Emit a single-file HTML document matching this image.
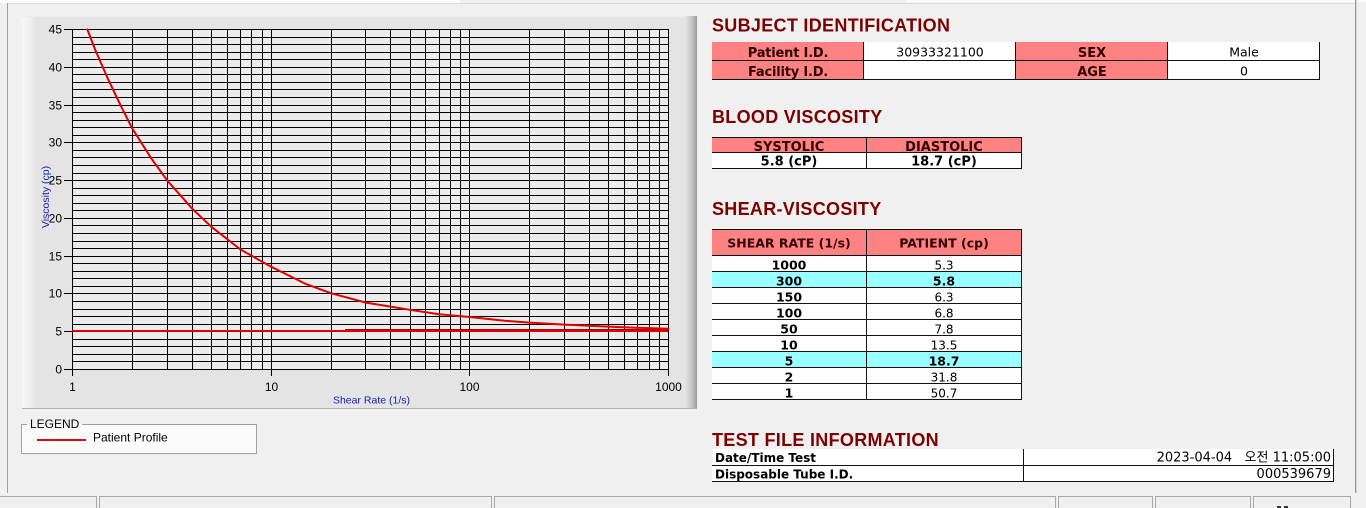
<!DOCTYPE html>
<html>
<head>
<meta charset="utf-8">
<style>
  html, body { margin: 0; padding: 0; background: #f0f0f0; overflow: hidden; }
  svg { display: block; }
  .ax { font-family: "Liberation Sans", Arial, sans-serif; }
  .hd { font-family: "Liberation Sans", Arial, sans-serif; font-weight: bold; font-size: 18px; fill: #7d0000; letter-spacing: 0.3px; }
  .tb { font-family: "DejaVu Sans", "Liberation Sans", "Noto Sans CJK KR", sans-serif; }
</style>
</head>
<body>
<svg width="1366" height="508" viewBox="0 0 1366 508" xmlns="http://www.w3.org/2000/svg">
  <defs>
    <linearGradient id="lg" x1="0" x2="1" y1="0" y2="0">
      <stop offset="0" stop-color="#f7f7f7"/>
      <stop offset="0.5" stop-color="#f0f0f0"/>
      <stop offset="1" stop-color="#e4e4e4"/>
    </linearGradient>
    <linearGradient id="rg" x1="0" x2="1" y1="0" y2="0">
      <stop offset="0" stop-color="#e4e4e4"/>
      <stop offset="0.6" stop-color="#c4c4c4"/>
      <stop offset="1" stop-color="#9a9a9a"/>
    </linearGradient>
  </defs>

  <!-- page background -->
  <rect x="0" y="0" width="1366" height="508" fill="#f0f0f0"/>
  <rect x="0" y="0" width="460" height="3" fill="#fbfbfb"/>
  <rect x="906" y="0" width="460" height="2" fill="#fbfbfb"/>

  <!-- outer frame -->
  <path d="M7.5 3V493" stroke="#a0a0a0" fill="none"/>
  <path d="M8 3.5H1355" stroke="#dcdcdc" fill="none"/>
  <path d="M1355.5 0V493" stroke="#9a9a9a" fill="none"/>
  <path d="M1356.5 0V493" stroke="#d4d4d4" fill="none"/>

  <!-- chart panel -->
  <rect x="22" y="16" width="675" height="392" fill="#e4e4e4"/>
  <rect x="22" y="16" width="14" height="392" fill="url(#lg)"/>
  <path d="M22 16.5H686" stroke="#ececec" fill="none"/>
  <rect x="685" y="16" width="12" height="393" fill="url(#rg)"/>
  <path d="M22 408.5H697" stroke="#b4b4b4" fill="none"/>

  <!-- plot background -->
  <rect x="72" y="29" width="597" height="341" fill="#ebebeb"/>

  <!-- horizontal grid -->
  <path fill="none" stroke="#000" stroke-width="1" d="
M72 29.5H669M72 37.5H669M72 44.5H669M72 52.5H669M72 59.5H669M72 67.5H669M72 74.5H669M72 82.5H669M72 89.5H669M72 97.5H669
M72 105.5H669M72 112.5H669M72 120.5H669M72 127.5H669M72 135.5H669M72 142.5H669M72 150.5H669M72 157.5H669M72 165.5H669M72 173.5H669
M72 180.5H669M72 188.5H669M72 195.5H669M72 203.5H669M72 210.5H669M72 218.5H669M72 225.5H669M72 233.5H669M72 241.5H669M72 248.5H669
M72 256.5H669M72 263.5H669M72 271.5H669M72 278.5H669M72 286.5H669M72 293.5H669M72 301.5H669M72 309.5H669M72 316.5H669M72 324.5H669
M72 331.5H669M72 339.5H669M72 346.5H669M72 354.5H669M72 361.5H669M72 369.5H669"/>

  <!-- vertical grid -->
  <path fill="none" stroke="#000" stroke-width="1" d="
M72.5 29V370M132.5 29V370M167.5 29V370M192.5 29V370M211.5 29V370M227.5 29V370M240.5 29V370M251.5 29V370M262.5 29V370M271.5 29V370
M331.5 29V370M365.5 29V370M390.5 29V370M410.5 29V370M425.5 29V370M439.5 29V370M450.5 29V370M460.5 29V370M469.5 29V370
M529.5 29V370M564.5 29V370M589.5 29V370M608.5 29V370M624.5 29V370M637.5 29V370M649.5 29V370M659.5 29V370M668.5 29V370"/>

  <!-- y ticks -->
  <path fill="none" stroke="#000" d="M64 29.5H72M64 67.5H72M64 105.5H72M64 142.5H72M64 180.5H72M64 218.5H72M64 256.5H72M64 293.5H72M64 331.5H72M64 369.5H72"/>
  <!-- x ticks -->
  <path fill="none" stroke="#000" d="M72.5 370V376M271.5 370V376M469.5 370V376M668.5 370V376"/>

  <!-- y labels -->
  <g class="ax" font-size="12" fill="#000" text-anchor="end">
    <text x="62" y="33.5">45</text>
    <text x="62" y="71.5">40</text>
    <text x="62" y="109.5">35</text>
    <text x="62" y="146.5">30</text>
    <text x="62" y="184.5">25</text>
    <text x="62" y="222.5">20</text>
    <text x="62" y="260.5">15</text>
    <text x="62" y="297.5">10</text>
    <text x="62" y="335.5">5</text>
    <text x="62" y="373.5">0</text>
  </g>
  <!-- x labels -->
  <g class="ax" font-size="12" fill="#000" text-anchor="middle">
    <text x="72.5" y="391">1</text>
    <text x="271.5" y="391">10</text>
    <text x="469.5" y="391">100</text>
    <text x="668.5" y="391">1000</text>
  </g>
  <!-- axis titles -->
  <text class="ax" x="371.5" y="403.5" font-size="10.5" fill="#1a1ab0" text-anchor="middle">Shear Rate (1/s)</text>
  <text class="ax" transform="translate(49,197) rotate(-90)" font-size="10.5" fill="#1a1ab0" text-anchor="middle">Viscosity (cp)</text>

  <!-- series -->
  <path d="M72 331H668" stroke="#dc0000" stroke-width="2" fill="none"/>
  <path d="M345 329.5H668" stroke="#b00000" stroke-width="1" fill="none"/>
  <polyline fill="none" stroke="#e00000" stroke-width="2" stroke-linejoin="round" stroke-linecap="round"
    points="87.4,29.5 95.1,49.5 107.5,77.9 120.8,105.8 132.3,128.5 151.5,158.7 167.3,180.6 192.1,208.6 211.3,226.7 240.3,249.4 271.1,266.7 306.1,284.1 330.9,293.2 365.9,302.6 409.9,309.8 438.9,314.3 469.7,317 504.7,320.8 529.5,322.6 564.5,324.6 608.5,326.6 637.5,327.8 668.3,328.8"/>

  <!-- legend -->
  <rect x="21" y="424" width="236" height="30" fill="#fbfbfb"/>
  <path d="M27 424.5H21.5V453.5H256.5V424.5H82" fill="none" stroke="#a0a0a0"/>
  <text class="ax" x="30" y="428" font-size="12" fill="#000">LEGEND</text>
  <path d="M37 440H86" stroke="#d01010" stroke-width="2"/>
  <text class="ax" x="93" y="441.5" font-size="12" fill="#000">Patient Profile</text>

  <!-- ================= RIGHT SIDE ================= -->
  <text class="hd" x="712" y="31.5">SUBJECT IDENTIFICATION</text>

  <!-- table 1 -->
  <rect x="712" y="42" width="151" height="38" fill="#ff8282"/>
  <rect x="864" y="42" width="151" height="38" fill="#ffffff"/>
  <rect x="1016" y="42" width="151" height="38" fill="#ff8282"/>
  <rect x="1168" y="42" width="151" height="38" fill="#ffffff"/>
  <path fill="none" stroke="#111" d="M712 60.5H1320M712 79.5H1320M863.5 42V80M1015.5 42V80M1167.5 42V80M1319.5 42V80"/>
  <g class="tb" font-size="13" text-anchor="middle">
    <text x="788" y="57" font-weight="bold" fill="#300000" letter-spacing="-0.2">Patient I.D.</text>
    <text x="788" y="76" font-weight="bold" fill="#300000" letter-spacing="-0.2">Facility I.D.</text>
    <text x="940" y="56.5" font-size="12.5" fill="#000">30933321100</text>
    <text x="1092" y="57" font-weight="bold" fill="#300000">SEX</text>
    <text x="1092" y="76" font-weight="bold" fill="#300000">AGE</text>
    <text x="1244" y="56.5" font-size="12.5" fill="#000">Male</text>
    <text x="1244" y="75.5" font-size="12.5" fill="#000">0</text>
  </g>

  <text class="hd" x="712" y="123">BLOOD VISCOSITY</text>

  <!-- table 2 -->
  <rect x="712" y="137" width="309" height="15" fill="#ff8282"/>
  <rect x="712" y="153" width="309" height="15" fill="#ffffff"/>
  <path fill="none" stroke="#111" d="M712 137.5H1022M712 152.5H1022M712 168.5H1022M866.5 137V169M1021.5 137V169"/>
  <g class="tb" font-size="13" font-weight="bold" text-anchor="middle">
    <text x="789" y="151" fill="#300000">SYSTOLIC</text>
    <text x="944" y="151" fill="#300000">DIASTOLIC</text>
    <text x="789" y="165.5" fill="#000">5.8 (cP)</text>
    <text x="944" y="165.5" fill="#000">18.7 (cP)</text>
  </g>

  <text class="hd" x="712" y="215">SHEAR-VISCOSITY</text>

  <!-- table 3 -->
  <rect x="712" y="229" width="309" height="26" fill="#ff8282"/>
  <rect x="712" y="256" width="309" height="143" fill="#ffffff"/>
  <rect x="712" y="272" width="309" height="15" fill="#99ffff"/>
  <rect x="712" y="352" width="309" height="15" fill="#99ffff"/>
  <path fill="none" stroke="#111" d="M712 229.5H1022M712 255.5H1022M712 271.5H1022M712 287.5H1022M712 303.5H1022M712 319.5H1022M712 335.5H1022M712 351.5H1022M712 367.5H1022M712 383.5H1022M712 399.5H1022M866.5 229V400M1021.5 229V400"/>
  <g class="tb" font-size="12.5" text-anchor="middle">
    <text x="789" y="247.5" font-weight="bold" fill="#300000">SHEAR RATE (1/s)</text>
    <text x="944" y="247.5" font-weight="bold" fill="#300000">PATIENT (cp)</text>

    <g font-weight="bold" fill="#000">
      <text x="789" y="269.5">1000</text>
      <text x="789" y="285.5">300</text>
      <text x="789" y="301.5">150</text>
      <text x="789" y="317.5">100</text>
      <text x="789" y="333.5">50</text>
      <text x="789" y="349.5">10</text>
      <text x="789" y="365.5">5</text>
      <text x="789" y="381.5">2</text>
      <text x="789" y="397.5">1</text>
    </g>
    <g fill="#000" font-size="12">
      <text x="944" y="269.5">5.3</text>
      <text x="944" y="285.5" font-weight="bold" font-size="12.5">5.8</text>
      <text x="944" y="301.5">6.3</text>
      <text x="944" y="317.5">6.8</text>
      <text x="944" y="333.5">7.8</text>
      <text x="944" y="349.5">13.5</text>
      <text x="944" y="365.5" font-weight="bold" font-size="12.5">18.7</text>
      <text x="944" y="381.5">31.8</text>
      <text x="944" y="397.5">50.7</text>
    </g>
  </g>

  <text class="hd" x="712" y="446">TEST FILE INFORMATION</text>

  <!-- table 4 -->
  <rect x="712" y="449" width="621" height="32" fill="#ffffff"/>
  <path fill="none" stroke="#111" d="M712 465.5H1334M712 481.5H1334M1023.5 449V482M1333.5 449V482"/>
  <g class="tb" fill="#000">
    <text x="715" y="462" font-size="12" font-weight="bold">Date/Time Test</text>
    <text x="715" y="478.5" font-size="12" font-weight="bold">Disposable Tube I.D.</text>
    <text x="1331" y="461.5" font-size="13" text-anchor="end" font-family="'DejaVu Sans', 'Noto Sans CJK KR', sans-serif">2023-04-04&#160;&#160;&#160;오전 11:05:00</text>
    <text x="1331" y="478" font-size="13" text-anchor="end">000539679</text>
  </g>

  <!-- status bar -->
  <g fill="none" stroke="#a8a8a8">
    <path d="M0 496.5H96.5V508"/>
    <path d="M99.5 508V496.5H491.5V508"/>
    <path d="M494.5 508V496.5H1055.5V508"/>
    <path d="M1058.5 508V496.5H1152.5V508"/>
    <path d="M1155.5 508V496.5H1250.5V508"/>
    <path d="M1253.5 508V496.5H1350.5V508"/>
  </g>
  <rect x="1277" y="506" width="4" height="2" fill="#333"/>
  <rect x="1284" y="506" width="4" height="2" fill="#333"/>
</svg>
</body>
</html>
